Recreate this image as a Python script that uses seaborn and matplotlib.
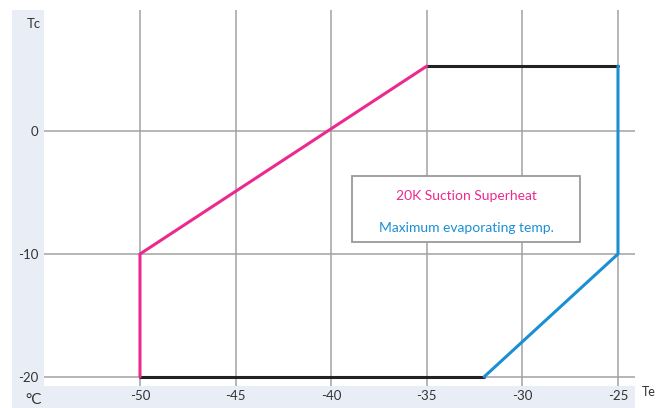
import matplotlib
matplotlib.use("Agg")
import matplotlib.pyplot as plt
from matplotlib.patches import Rectangle
import seaborn as sns
import pandas as pd

# Data
pink_te = [-50, -50, -35]
pink_tc = [-20, -10, 5.3]
top_te = [-35, -25]
top_tc = [5.3, 5.3]
blue_te = [-25, -25, -32]
blue_tc = [5.3, -10, -20]
bottom_te = [-50, -32]
bottom_tc = [-20, -20]
x_ticks = [-50, -45, -40, -35, -30, -25]
y_ticks = [-20, -10, 0]
legend_texts = ["20K Suction Superheat", "Maximum evaporating temp."]

PINK = "#ec2a8e"
BLUE = "#1b8fd4"
BLACK = "#222222"
GRID = "#a2a2a2"
STRIP = "#e9eef6"
TXT = "#333333"

sns.set_style("white")
plt.rcParams['font.family'] = ['Lato', 'DejaVu Sans']

W, H = 664, 408
fig = plt.figure(figsize=(W / 100, H / 100), dpi=100)

def fx(px):
    return px / W

def fy(py):
    return 1 - py / H

# background strips
fig.add_artist(Rectangle((fx(12), 0), fx(44) - fx(12), fy(10), transform=fig.transFigure,
                         facecolor=STRIP, edgecolor='none', zorder=0))
fig.add_artist(Rectangle((fx(12), 0), fx(635) - fx(12), fy(386), transform=fig.transFigure,
                         facecolor=STRIP, edgecolor='none', zorder=0))

ax = fig.add_axes([fx(44), fy(386), fx(635) - fx(44), fy(10) - fy(386)])
ax.set_facecolor("white")
ax.set_zorder(1)

lw = 2.2
kw = dict(sort=False, estimator=None, lw=lw, ax=ax)
sns.lineplot(x=top_te, y=top_tc, color=BLACK, **kw)
sns.lineplot(x=bottom_te, y=bottom_tc, color=BLACK, **kw)
sns.lineplot(x=pink_te, y=pink_tc, color=PINK, **kw)
sns.lineplot(x=blue_te, y=blue_tc, color=BLUE, **kw)

ax.set_xlim(-55.02, -24.11)
ax.set_ylim(-20.75, 9.87)
ax.set_xticks(x_ticks)
ax.set_yticks(y_ticks)
ax.set_xticklabels([str(v) for v in x_ticks])
ax.set_yticklabels([str(v) for v in y_ticks])
ax.grid(True, color=GRID, lw=1.1, zorder=0)
ax.set_axisbelow(True)
for s in ax.spines.values():
    s.set_visible(False)
ax.tick_params(axis='both', length=0, labelsize=9.5, colors=TXT)
ax.tick_params(axis='y', pad=4)
ax.tick_params(axis='x', pad=3)
ax.set_xlabel("")
ax.set_ylabel("")

# legend box
ax.add_artist(Rectangle((fx(352), fy(242)), fx(580) - fx(352), fy(176) - fy(242),
                        transform=fig.transFigure, facecolor='white', edgecolor='#9a9a9a',
                        lw=1.3, zorder=5))
fig.text(fx(466), fy(196), legend_texts[0], color=PINK, fontsize=10, ha='center', va='center', zorder=6)
fig.text(fx(466), fy(228), legend_texts[1], color=BLUE, fontsize=10, ha='center', va='center', zorder=6)

# axis labels
fig.text(fx(41), fy(24), "Tc", color=TXT, fontsize=9.5, ha='right', va='center')
fig.text(fx(25), fy(407), "°C", color=TXT, fontsize=11, ha='left', va='bottom')
fig.text(fx(642), fy(392), "Te", color=TXT, fontsize=9, ha='left', va='center')

fig.savefig("out.png", dpi=100)
